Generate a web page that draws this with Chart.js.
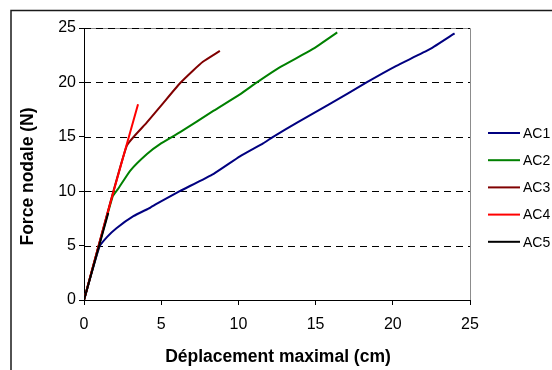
<!DOCTYPE html>
<html>
<head>
<meta charset="utf-8">
<script src="https://cdn.jsdelivr.net/npm/chart.js@4.4.1/dist/chart.umd.min.js"></script>
<style>
  body { margin: 0; background: #ffffff; }
  #wrap { width: 552px; height: 370px; }
</style>
</head>
<body>
<div id="wrap"><canvas id="forceChart" width="552" height="370"></canvas></div>
<script>
// Force nodale vs déplacement maximal
const seriesNames = ['AC1', 'AC2', 'AC3', 'AC4', 'AC5'];
const seriesColors = ['#000080', '#008000', '#800000', '#ff0000', '#000000'];

const ac1X = [0, 1.0, 1.5, 2.1, 3.2, 4.3, 4.9, 6.2, 8.4, 10.1, 11.6, 12.25, 13.8, 15.9, 18.3, 20.2, 22.4, 24.0];
const ac1Y = [0, 4.9, 5.8, 6.6, 7.7, 8.5, 9.0, 10.0, 11.6, 13.2, 14.4, 15.0, 16.3, 18.0, 20.0, 21.5, 23.05, 24.5];

const ac2X = [0, 1.85, 2.2, 3.0, 4.06, 4.9, 6.2, 8.4, 10.1, 11.2, 12.7, 14.8, 16.4];
const ac2Y = [0, 9.5, 10.2, 11.9, 13.4, 14.3, 15.4, 17.4, 18.9, 20.0, 21.4, 23.05, 24.6];

const ac3X = [0, 2.76, 4.06, 5.13, 6.2, 7.07, 7.7, 8.8];
const ac3Y = [0, 14.15, 16.3, 18.1, 19.9, 21.1, 21.9, 22.9];

const ac4X = [0, 1.7, 3.5];
const ac4Y = [0, 8.9, 18.0];

const ac5X = [0, 1.57];
const ac5Y = [0, 8.0];

const xTicks = [0, 5, 10, 15, 20, 25];
const yTicks = [0, 5, 10, 15, 20, 25];

const xTitle = 'Déplacement maximal (cm)';
const yTitle = 'Force nodale (N)';

const FONT = '"Liberation Sans", Arial, sans-serif';

function toPoints(xs, ys) {
    return xs.map((x, i) => ({ x: x, y: ys[i] }));
}

const allSeries = [[ac1X, ac1Y], [ac2X, ac2Y], [ac3X, ac3Y], [ac4X, ac4Y], [ac5X, ac5Y]];

// last series is drawn on top, like in the picture
const datasets = allSeries.map((s, i) => ({
    label: seriesNames[i],
    data: toPoints(s[0], s[1]),
    borderColor: seriesColors[i],
    backgroundColor: seriesColors[i],
    borderWidth: 2,
    pointRadius: 0,
    tension: 0.15,
    fill: false,
    order: seriesNames.length - i
}));

// frame, dashed grid, titles and the legend on the right
const decorPlugin = {
    id: 'decor',
    beforeDatasetsDraw(chart) {
        const { ctx, chartArea, scales } = chart;
        ctx.save();
        // gray plot border on top and right
        ctx.strokeStyle = '#8c8c8c';
        ctx.lineWidth = 1;
        ctx.beginPath();
        ctx.moveTo(chartArea.left, chartArea.top + 0.5);
        ctx.lineTo(chartArea.right + 0.5, chartArea.top + 0.5);
        ctx.lineTo(chartArea.right + 0.5, chartArea.bottom);
        ctx.stroke();
        // dashed horizontal grid
        ctx.strokeStyle = '#000000';
        ctx.setLineDash([7, 5]);
        yTicks.forEach(v => {
            if (v === 0) return;
            const py = Math.round(scales.y.getPixelForValue(v)) + 0.5;
            ctx.beginPath();
            ctx.moveTo(chartArea.left, py);
            ctx.lineTo(chartArea.right, py);
            ctx.stroke();
        });
        ctx.restore();
    },
    afterDraw(chart) {
        const { ctx } = chart;
        ctx.save();
        // outer chart frame (top and left only visible)
        ctx.strokeStyle = '#1a1a1a';
        ctx.lineWidth = 1.5;
        ctx.beginPath();
        ctx.moveTo(11, 370);
        ctx.lineTo(11, 10.5);
        ctx.lineTo(552, 10.5);
        ctx.stroke();

        // axis titles
        ctx.fillStyle = '#000000';
        ctx.font = 'bold 17.5px ' + FONT;
        ctx.textAlign = 'center';
        ctx.textBaseline = 'middle';
        ctx.fillText(xTitle, 278, 357);
        ctx.translate(28.5, 176.5);
        ctx.rotate(-Math.PI / 2);
        ctx.fillText(yTitle, 0, 0);
        ctx.setTransform(1, 0, 0, 1, 0, 0);

        // legend
        ctx.font = '14px ' + FONT;
        ctx.textAlign = 'left';
        ctx.lineWidth = 2;
        seriesNames.forEach((name, i) => {
            const ly = 133 + i * 27.2;
            ctx.strokeStyle = seriesColors[i];
            ctx.beginPath();
            ctx.moveTo(488, ly);
            ctx.lineTo(520, ly);
            ctx.stroke();
            ctx.fillStyle = '#000000';
            ctx.fillText(name, 523, ly + 1);
        });
        ctx.restore();
    }
};

new Chart(document.getElementById('forceChart').getContext('2d'), {
    type: 'line',
    data: { datasets: datasets },
    options: {
        responsive: false,
        animation: false,
        layout: { padding: { top: 28, right: 82, left: 0, bottom: 0 } },
        plugins: {
            legend: { display: false },
            tooltip: { enabled: false }
        },
        scales: {
            x: {
                type: 'linear',
                min: 0,
                max: 25,
                afterBuildTicks: s => { s.ticks = xTicks.map(v => ({ value: v })); },
                afterFit: s => { s.height = 70; },
                ticks: { color: '#000000', font: { family: FONT, size: 16 }, padding: 10, maxRotation: 0 },
                grid: { drawOnChartArea: false, drawTicks: true, tickLength: 5, tickColor: '#000000' },
                border: { color: '#000000', width: 1 }
            },
            y: {
                type: 'linear',
                min: 0,
                max: 25,
                afterBuildTicks: s => { s.ticks = yTicks.map(v => ({ value: v })); },
                afterFit: s => { s.width = 84; },
                ticks: { color: '#000000', font: { family: FONT, size: 16 }, padding: 3 },
                grid: { drawOnChartArea: false, drawTicks: true, tickLength: 5, tickColor: '#000000' },
                border: { color: '#000000', width: 1 }
            }
        }
    },
    plugins: [decorPlugin]
});
</script>
</body>
</html>
